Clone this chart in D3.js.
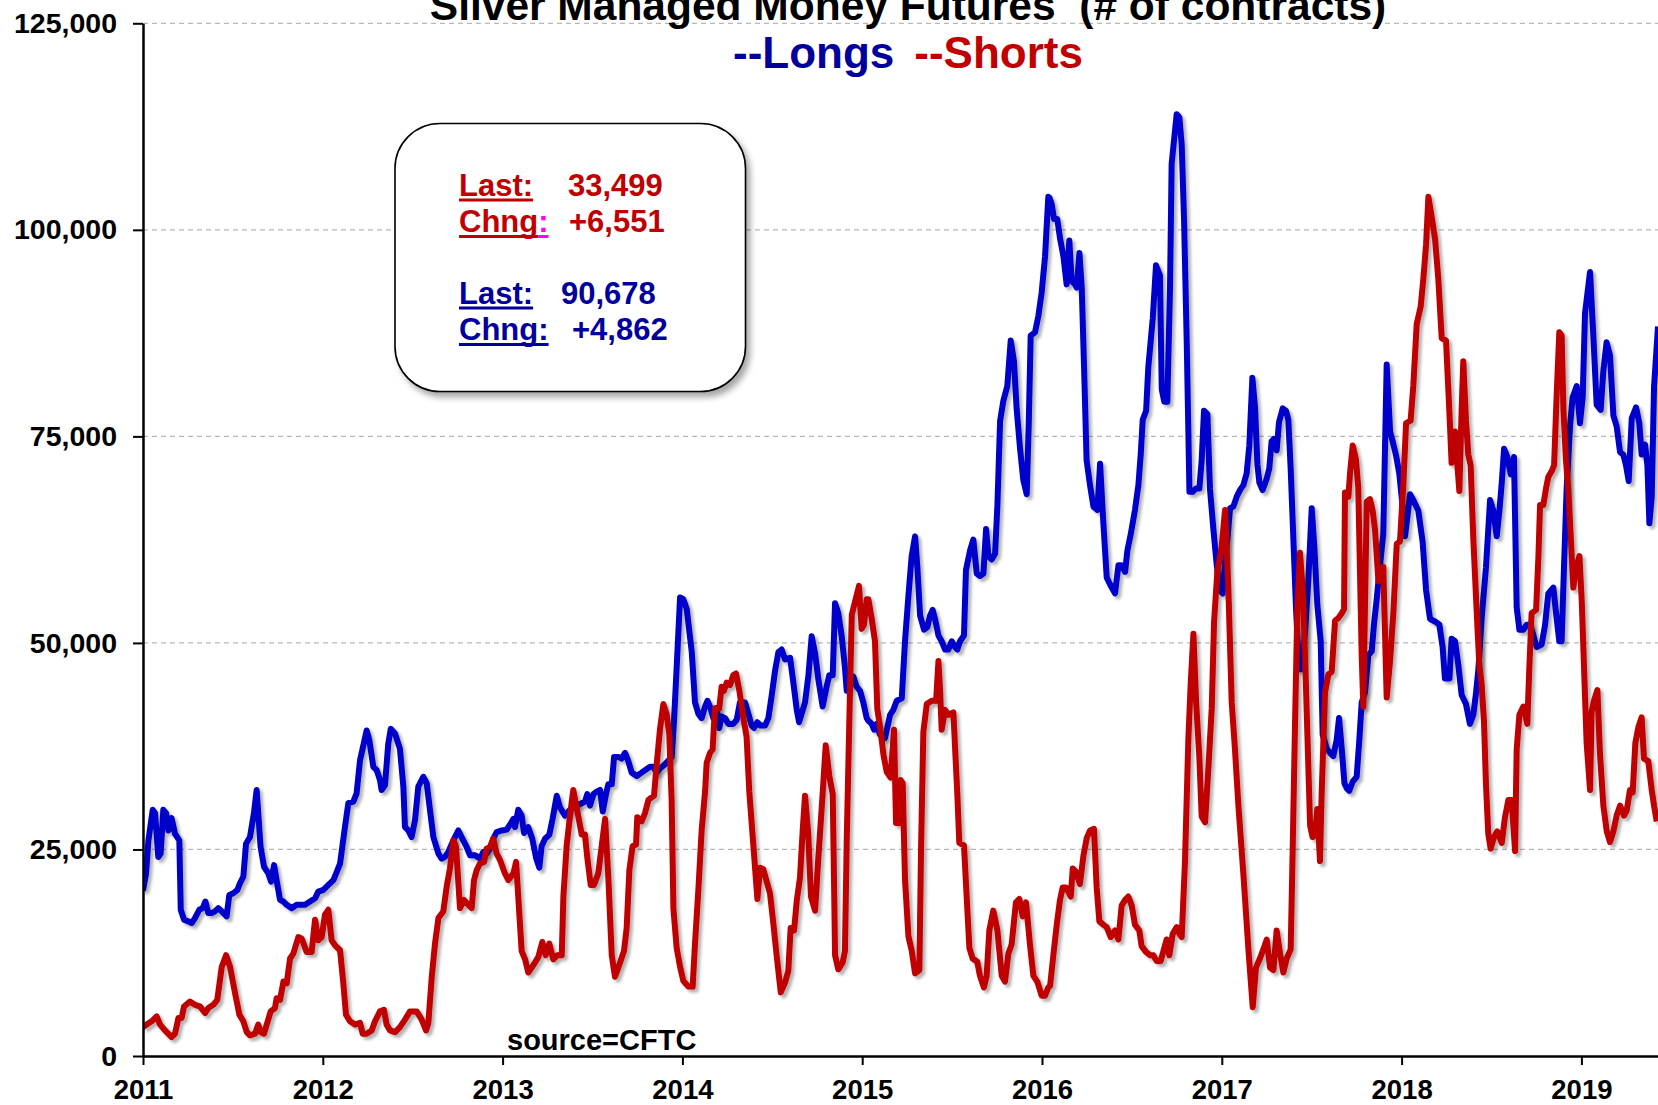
<!DOCTYPE html>
<html><head><meta charset="utf-8">
<script src="https://cdn.jsdelivr.net/npm/d3@7"></script>
<style>
html,body{margin:0;padding:0;background:#fff;}
svg{display:block;font-family:"Liberation Sans",Arial,Helvetica,sans-serif;font-weight:bold;}
</style>
</head><body>
<svg id="chart" width="1658" height="1105"></svg>
<script>
// ---- data (dates as decimal years, values in thousands of contracts) ----
const longsDates = [2011.000,2011.017,2011.030,2011.054,2011.067,2011.085,2011.098,2011.113,2011.128,2011.141,2011.159,2011.178,2011.202,2011.210,2011.228,2011.252,2011.271,2011.289,2011.313,2011.332,2011.347,2011.363,2011.382,2011.400,2011.419,2011.438,2011.465,2011.480,2011.502,2011.525,2011.539,2011.558,2011.573,2011.595,2011.617,2011.632,2011.654,2011.673,2011.697,2011.712,2011.729,2011.743,2011.762,2011.781,2011.799,2011.827,2011.855,2011.883,2011.901,2011.929,2011.957,2011.975,2012.003,2012.031,
2012.059,2012.096,2012.123,2012.142,2012.170,2012.188,2012.207,2012.244,2012.259,2012.281,2012.300,2012.318,2012.327,2012.346,2012.364,2012.378,2012.402,2012.429,2012.448,2012.457,2012.476,2012.494,2012.513,2012.531,2012.559,2012.578,2012.596,2012.615,2012.643,2012.661,2012.680,2012.698,2012.726,2012.754,2012.772,2012.800,2012.819,2012.847,2012.874,2012.893,2012.911,2012.930,2012.948,2012.967,2012.995,2013.023,
2013.041,2013.060,2013.069,2013.087,2013.106,2013.119,2013.143,2013.165,2013.186,2013.204,2013.217,2013.236,2013.260,2013.278,2013.301,2013.319,2013.347,2013.375,2013.393,2013.412,2013.440,2013.458,2013.471,2013.486,2013.505,2013.523,2013.542,2013.557,2013.575,2013.588,2013.607,2013.620,2013.644,2013.662,2013.681,2013.699,2013.718,2013.746,2013.773,2013.792,2013.820,2013.838,2013.857,2013.875,2013.903,2013.940,2013.953,2013.968,2013.987,2014.005,2014.024,
2014.052,2014.070,2014.089,2014.107,2014.126,2014.139,2014.157,2014.172,2014.191,2014.205,2014.218,2014.237,2014.256,2014.283,2014.302,2014.320,2014.348,2014.367,2014.385,2014.398,2014.417,2014.435,2014.460,2014.478,2014.497,2014.515,2014.534,2014.552,2014.571,2014.599,2014.617,2014.636,2014.649,2014.663,2014.682,2014.701,2014.719,2014.738,2014.756,2014.780,2014.802,2014.817,2014.836,2014.849,2014.867,2014.886,2014.904,2014.914,2014.932,2014.951,2014.969,2014.988,2015.006,2015.025,
2015.034,2015.053,2015.066,2015.081,2015.099,2015.127,2015.155,2015.173,2015.192,2015.220,2015.238,2015.257,2015.275,2015.294,2015.307,2015.322,2015.344,2015.362,2015.377,2015.392,2015.405,2015.424,2015.442,2015.461,2015.479,2015.498,2015.516,2015.529,2015.544,2015.566,2015.577,2015.600,2015.618,2015.637,2015.655,2015.674,2015.689,2015.702,2015.720,2015.739,2015.752,2015.767,2015.785,2015.807,2015.826,2015.844,2015.859,2015.878,2015.896,2015.915,2015.926,2015.937,2015.961,2015.980,2015.998,2016.017,2016.035,
2016.041,2016.054,2016.067,2016.085,2016.100,2016.119,2016.137,2016.152,2016.165,2016.184,2016.193,2016.208,2016.221,2016.234,2016.248,2016.267,2016.286,2016.308,2016.323,2016.341,2016.360,2016.378,2016.406,2016.425,2016.443,2016.462,2016.475,2016.493,2016.517,2016.536,2016.549,2016.560,2016.579,2016.591,2016.616,2016.634,2016.656,2016.666,2016.680,2016.697,2016.712,2016.721,2016.749,2016.764,2016.777,2016.790,2016.805,2016.820,2016.838,2016.857,2016.875,2016.888,2016.901,2016.920,2016.934,2016.953,2016.972,2016.990,2017.005,
2017.018,2017.031,2017.046,2017.064,2017.083,2017.101,2017.120,2017.138,2017.153,2017.170,2017.185,2017.198,2017.209,2017.227,2017.250,2017.264,2017.277,2017.290,2017.305,2017.318,2017.339,2017.357,2017.370,2017.383,2017.398,2017.413,2017.429,2017.444,2017.463,2017.481,2017.500,2017.515,2017.531,2017.550,2017.561,2017.583,2017.606,2017.620,2017.639,2017.652,2017.667,2017.682,2017.695,2017.709,2017.728,2017.750,2017.765,2017.778,2017.796,2017.815,2017.834,2017.847,2017.861,2017.876,2017.898,2017.917,2017.936,2017.950,2017.969,2017.987,2018.000,
2018.019,2018.047,2018.065,2018.093,2018.117,2018.136,2018.158,2018.186,2018.210,2018.228,2018.241,2018.266,2018.278,2018.297,2018.315,2018.334,2018.358,2018.380,2018.399,2018.414,2018.427,2018.445,2018.469,2018.492,2018.510,2018.529,2018.544,2018.557,2018.570,2018.588,2018.607,2018.625,2018.640,2018.655,2018.677,2018.696,2018.714,2018.733,2018.751,2018.779,2018.798,2018.816,2018.844,2018.859,2018.877,2018.890,2018.903,2018.918,2018.937,2018.951,2018.974,2018.992,2019.007,
2019.020,2019.048,2019.066,2019.085,2019.107,2019.122,2019.140,2019.159,2019.178,2019.196,2019.215,2019.233,2019.248,2019.263,2019.280,2019.304,2019.322,2019.335,2019.354,2019.367,2019.378,2019.391,2019.404,2019.426];
const longsValues = [20.0,22.1,26.1,29.8,29.4,24.1,24.5,29.8,29.4,27.3,28.8,26.9,26.1,17.7,16.5,16.3,16.1,16.7,17.7,17.9,18.7,17.3,17.3,17.5,17.9,17.5,16.9,19.5,19.7,20.1,20.9,21.7,25.7,26.5,29.4,32.2,25.3,22.9,22.1,21.1,23.1,21.3,18.9,18.7,18.3,17.9,18.3,18.3,18.3,18.7,19.1,19.9,20.1,20.7,
21.3,23.3,27.7,30.6,30.8,31.8,35.8,39.4,38.2,35.0,34.6,33.4,32.2,32.8,37.8,39.6,39.0,37.2,32.6,27.7,27.3,26.5,28.6,32.6,33.8,33.0,29.8,26.5,24.5,23.9,24.1,24.7,26.1,27.3,26.5,25.3,24.3,24.3,23.9,24.7,24.5,25.1,26.3,27.1,27.3,27.4,
28.0,28.7,27.7,29.8,29.1,27.0,27.7,26.3,24.0,22.8,25.4,26.3,26.8,28.7,31.5,30.1,29.1,29.8,30.1,30.3,30.6,30.8,31.7,30.3,31.7,32.0,32.2,29.6,31.7,32.9,32.9,36.2,36.2,36.0,36.7,35.7,34.3,33.9,34.3,34.6,35.0,35.0,34.3,34.8,35.3,36.2,40.4,47.0,55.5,55.3,54.1,
48.9,42.8,41.4,40.9,42.3,43.0,42.1,40.9,42.1,39.7,41.1,40.9,40.2,40.2,40.7,42.8,42.8,41.4,40.0,39.7,40.4,40.0,40.0,40.9,43.7,46.6,48.9,49.2,48.0,48.2,45.2,41.9,40.4,41.4,42.8,46.1,50.8,48.7,45.6,42.3,44.7,46.1,46.1,54.8,53.6,50.8,47.0,44.2,45.6,45.9,44.7,44.2,42.8,40.9,
40.6,40.2,39.5,40.2,38.9,38.5,41.3,41.9,43.0,43.3,50.2,55.7,60.5,62.9,59.1,53.3,51.6,51.9,53.3,54.0,52.9,50.9,50.2,49.2,49.2,50.2,49.5,49.2,50.2,50.9,58.8,61.2,62.5,58.4,58.1,58.4,63.8,60.5,60.1,60.8,66.7,76.9,79.3,81.1,86.6,84.1,78.3,73.5,69.7,68.0,76.3,87.2,87.6,89.6,92.4,96.8,104.0,
103.9,103.1,101.3,101.3,99.0,96.8,93.4,98.7,93.8,93.4,93.0,97.2,93.0,83.3,72.1,69.1,66.5,66.1,71.7,64.6,57.9,57.1,56.0,59.4,59.4,58.6,61.2,63.1,66.1,69.1,72.8,77.0,78.1,83.3,89.3,95.7,94.5,80.7,79.2,79.2,93.0,108.0,114.0,113.6,110.3,101.3,86.3,68.3,68.3,68.7,68.7,72.1,78.1,77.7,68.7,63.8,59.4,56.4,56.0,
59.8,62.6,66.3,66.5,67.7,68.5,69.1,70.5,73.9,82.1,78.4,71.6,69.4,68.5,69.9,71.1,74.4,74.7,73.3,76.7,78.4,78.1,77.0,71.1,62.6,54.1,46.8,46.8,51.3,57.5,66.3,61.5,54.7,50.2,38.9,37.2,36.6,36.3,38.3,40.9,37.2,33.0,32.4,32.1,33.2,33.8,38.3,42.8,44.0,48.5,49.0,52.4,55.2,58.6,63.2,83.7,75.6,74.4,72.7,70.5,67.7,
62.9,68.0,67.3,66.0,62.2,56.4,52.9,52.6,52.2,49.5,45.7,45.7,50.5,50.2,47.4,43.7,42.6,40.2,41.3,44.0,46.8,52.9,59.1,67.3,66.0,62.9,66.0,69.4,73.5,72.5,70.4,72.5,54.3,51.6,51.6,52.2,52.2,50.9,49.5,49.8,52.2,56.0,56.7,53.6,50.2,50.2,59.1,68.7,76.3,79.7,81.1,76.6,79.7,
89.9,94.9,87.3,78.8,78.2,82.9,86.4,84.8,77.5,76.2,73.1,72.8,71.5,69.6,77.2,78.5,76.6,72.8,74.0,71.5,64.5,67.7,81.0,88.3];

const shortsDates = [2011.000,2011.020,2011.048,2011.076,2011.095,2011.122,2011.159,2011.178,2011.197,2011.215,2011.228,2011.261,2011.289,2011.317,2011.345,2011.363,2011.391,2011.413,2011.438,2011.462,2011.484,2011.512,2011.536,2011.558,2011.577,2011.595,2011.623,2011.641,2011.654,2011.673,2011.691,2011.710,2011.734,2011.743,2011.762,2011.781,2011.799,2011.818,2011.836,2011.864,2011.883,2011.910,2011.938,2011.957,2011.975,2011.994,2012.012,2012.031,
2012.049,2012.068,2012.096,2012.114,2012.129,2012.151,2012.179,2012.207,2012.222,2012.244,2012.272,2012.290,2012.318,2012.340,2012.355,2012.374,2012.402,2012.429,2012.457,2012.485,2012.522,2012.550,2012.574,2012.587,2012.606,2012.624,2012.643,2012.670,2012.689,2012.707,2012.726,2012.741,2012.754,2012.763,2012.785,2012.809,2012.828,2012.841,2012.856,2012.874,2012.897,2012.911,2012.930,2012.948,2012.967,2012.986,2013.013,2013.032,
2013.060,2013.075,2013.087,2013.106,2013.125,2013.143,2013.171,2013.199,2013.221,2013.240,2013.260,2013.282,2013.304,2013.329,2013.338,2013.356,2013.375,2013.393,2013.416,2013.440,2013.458,2013.471,2013.490,2013.508,2013.532,2013.551,2013.570,2013.588,2013.607,2013.625,2013.653,2013.675,2013.690,2013.705,2013.723,2013.742,2013.749,2013.773,2013.792,2013.811,2013.829,2013.842,2013.857,2013.875,2013.894,2013.912,2013.927,2013.940,2013.950,2013.968,2013.987,2014.005,2014.033,
2014.057,2014.070,2014.089,2014.107,2014.126,2014.135,2014.154,2014.168,2014.181,2014.205,2014.218,2014.231,2014.246,2014.265,2014.283,2014.298,2014.317,2014.339,2014.357,2014.372,2014.395,2014.417,2014.432,2014.450,2014.469,2014.487,2014.506,2014.524,2014.547,2014.571,2014.589,2014.602,2014.621,2014.636,2014.654,2014.669,2014.682,2014.700,2014.715,2014.738,2014.756,2014.775,2014.797,2014.817,2014.836,2014.843,2014.849,2014.867,2014.891,2014.904,2014.914,2014.932,2014.942,2014.960,2014.982,2014.997,2015.010,2015.025,
2015.034,2015.053,2015.071,2015.084,2015.099,2015.118,2015.136,2015.158,2015.177,2015.188,2015.207,2015.214,2015.225,2015.238,2015.257,2015.275,2015.294,2015.318,2015.327,2015.340,2015.359,2015.387,2015.411,2015.424,2015.433,2015.442,2015.461,2015.479,2015.507,2015.529,2015.540,2015.566,2015.581,2015.596,2015.614,2015.640,2015.655,2015.677,2015.692,2015.707,2015.729,2015.752,2015.776,2015.794,2015.813,2015.831,2015.855,2015.874,2015.893,2015.911,2015.933,2015.952,2015.974,2015.998,2016.017,2016.035,
2016.045,2016.063,2016.082,2016.100,2016.115,2016.134,2016.160,2016.171,2016.189,2016.211,2016.230,2016.249,2016.267,2016.289,2016.304,2016.319,2016.341,2016.360,2016.382,2016.406,2016.425,2016.443,2016.462,2016.480,2016.499,2016.517,2016.541,2016.554,2016.578,2016.601,2016.619,2016.638,2016.660,2016.679,2016.693,2016.708,2016.727,2016.749,2016.764,2016.777,2016.795,2016.814,2016.827,2016.842,2016.857,2016.875,2016.888,2016.907,2016.925,2016.944,2016.957,2016.975,2016.999,2017.018,
2017.036,2017.055,2017.073,2017.092,2017.120,2017.148,2017.172,2017.190,2017.212,2017.231,2017.250,2017.268,2017.287,2017.305,2017.324,2017.342,2017.361,2017.383,2017.394,2017.407,2017.420,2017.435,2017.450,2017.463,2017.476,2017.491,2017.505,2017.518,2017.531,2017.546,2017.555,2017.574,2017.593,2017.611,2017.630,2017.648,2017.667,2017.680,2017.685,2017.704,2017.713,2017.728,2017.746,2017.759,2017.778,2017.787,2017.796,2017.806,2017.824,2017.839,2017.852,2017.871,2017.898,2017.917,2017.936,2017.954,2017.973,2017.991,
2018.010,2018.025,2018.050,2018.065,2018.084,2018.106,2018.121,2018.136,2018.149,2018.167,2018.186,2018.204,2018.223,2018.247,2018.265,2018.278,2018.297,2018.306,2018.321,2018.334,2018.343,2018.358,2018.371,2018.384,2018.399,2018.418,2018.432,2018.445,2018.458,2018.469,2018.482,2018.495,2018.514,2018.532,2018.557,2018.575,2018.594,2018.612,2018.631,2018.640,2018.655,2018.677,2018.699,2018.710,2018.723,2018.748,2018.761,2018.770,2018.788,2018.803,2018.816,2018.835,2018.848,2018.863,2018.877,2018.890,2018.900,2018.914,2018.927,2018.940,2018.955,2018.970,2018.989,2019.002,
2019.029,2019.048,2019.057,2019.070,2019.089,2019.103,2019.122,2019.141,2019.159,2019.178,2019.196,2019.215,2019.237,2019.252,2019.270,2019.285,2019.300,2019.317,2019.335,2019.348,2019.372,2019.391,2019.404,2019.419];
const shortsValues = [3.5,3.8,4.2,4.8,3.8,3.1,2.3,2.7,4.6,4.6,6.0,6.6,6.2,6.0,5.2,5.8,6.2,6.8,10.8,12.2,10.8,7.6,5.0,4.2,2.9,2.5,2.7,3.8,2.9,2.7,4.0,5.4,5.8,7.0,6.8,9.0,8.8,11.8,12.4,14.4,14.2,12.6,12.6,16.5,14.0,14.4,17.1,17.7,
14.0,13.4,12.8,8.8,5.0,4.2,3.8,4.0,2.7,2.7,3.1,4.2,5.4,5.6,3.8,3.1,2.9,3.5,4.4,5.4,5.4,4.4,3.1,4.0,9.6,13.6,16.7,17.5,20.5,22.7,26.1,25.3,20.9,17.9,18.9,18.3,17.9,21.3,22.5,23.3,23.5,25.1,25.3,26.3,24.5,23.7,22.1,21.3,
22.1,23.5,19.3,12.7,11.7,10.1,11.0,12.0,13.8,12.2,13.6,11.7,12.2,12.2,19.3,25.4,29.1,32.2,29.6,26.8,26.8,24.0,20.7,20.7,22.1,25.4,28.7,21.6,12.2,9.6,11.3,12.7,15.5,22.5,25.4,25.6,28.9,28.4,29.4,31.0,31.3,31.5,35.3,39.5,42.6,41.4,39.0,31.0,17.8,13.1,10.8,9.1,8.4,
8.4,13.6,20.2,27.3,32.0,35.5,36.7,37.1,42.1,42.1,44.7,44.2,45.2,44.9,46.1,46.3,44.2,40.9,38.6,32.0,25.4,19.0,22.8,22.6,21.1,19.7,16.0,12.2,7.7,8.9,10.3,15.5,15.2,18.8,21.6,27.3,31.5,26.8,19.3,17.6,24.0,30.1,37.6,33.9,31.7,21.6,12.2,10.5,11.3,12.7,26.3,44.2,53.4,55.0,56.9,51.7,52.2,55.3,
55.3,52.9,50.2,42.0,39.9,36.5,34.4,33.7,39.5,28.2,28.2,33.4,33.0,21.4,14.5,12.8,10.0,10.4,24.8,39.2,42.6,43.0,43.0,47.8,44.3,39.5,41.9,41.3,41.6,31.7,25.8,25.5,19.3,13.1,11.8,11.4,9.7,8.3,9.7,15.2,17.6,15.2,9.7,9.0,12.4,13.5,18.6,19.0,16.9,18.6,13.5,9.7,9.0,7.3,7.3,8.3,
8.5,12.2,15.9,18.9,20.4,20.4,19.3,22.7,22.3,20.8,24.2,26.4,27.3,27.5,20.4,16.3,15.9,15.6,14.4,15.2,14.1,18.2,18.9,19.3,18.2,15.9,15.2,13.3,12.6,12.2,12.2,11.5,11.5,13.0,14.1,12.2,14.8,15.6,14.8,14.4,23.4,38.4,45.1,51.1,42.9,36.2,29.0,28.3,34.7,42.1,52.6,58.6,61.6,66.1,
56.9,42.8,37.2,30.4,22.0,12.9,5.9,10.7,11.8,12.9,14.1,10.7,10.4,15.2,12.4,10.1,11.8,12.9,24.8,40.0,54.1,60.9,56.4,48.5,38.9,27.9,26.5,26.8,29.9,23.6,31.5,44.0,46.2,46.5,52.7,53.0,53.6,54.1,68.2,67.7,70.5,73.9,72.2,68.8,48.5,42.3,54.1,67.1,67.4,66.0,63.7,57.5,59.2,43.4,47.9,53.6,62.0,62.3,
69.4,76.6,76.9,81.1,88.6,90.7,94.1,98.2,104.0,101.6,98.9,94.1,86.9,86.6,78.3,71.8,75.6,72.8,68.4,78.3,84.1,76.9,72.8,71.5,62.5,53.6,47.4,45.0,40.6,33.0,26.9,25.1,26.5,27.2,25.8,28.9,31.0,31.0,24.8,37.1,41.3,42.3,40.2,46.8,53.6,54.0,60.5,66.7,66.7,68.7,70.1,70.8,71.5,80.4,87.6,87.2,78.3,72.1,68.7,63.2,56.7,59.1,60.5,55.0,
37.9,32.2,41.7,43.0,44.3,36.7,30.3,27.2,25.9,27.2,29.1,30.3,29.1,29.7,32.2,31.9,37.9,39.8,41.0,36.0,35.7,32.2,30.3,28.4];

const yTickValues = [0, 25, 50, 75, 100, 125];       // thousands of contracts
const xTickYears = [2011, 2012, 2013, 2014, 2015, 2016, 2017, 2018, 2019];
const titleText = "Silver Managed Money Futures  (# of contracts)";
const seriesLabels = ["--Longs", "--Shorts"];
const shortsStats = ["33,499", "+6,551"];
const longsStats = ["90,678", "+4,862"];
const sourceText = "source=CFTC";

// ---- drawing ----
(function draw() {
const W = 1658, H = 1105;
const plotLeft = 143, plotBottom = 1056, plotTop = 23.3;
const BLUE = "#0000CC", RED = "#C00000", NAVY = "#00009C";

const svg = d3.select("#chart");
svg.append("rect").attr("width", W).attr("height", H).attr("fill", "#fff");

const defs = svg.append("defs");
const f1 = defs.append("filter").attr("id", "lineShadow")
  .attr("x", "-2%").attr("y", "-2%").attr("width", "104%").attr("height", "104%");
f1.append("feDropShadow").attr("dx", 3).attr("dy", 3).attr("stdDeviation", 1.6)
  .attr("flood-color", "#000").attr("flood-opacity", 0.3);
const f2 = defs.append("filter").attr("id", "boxShadow")
  .attr("x", "-10%").attr("y", "-10%").attr("width", "125%").attr("height", "125%");
f2.append("feDropShadow").attr("dx", 4).attr("dy", 5).attr("stdDeviation", 3)
  .attr("flood-color", "#000").attr("flood-opacity", 0.35);
defs.append("clipPath").attr("id", "plotClip").append("rect")
  .attr("x", plotLeft).attr("y", 0).attr("width", W - plotLeft).attr("height", plotBottom);

const x = d3.scaleLinear().domain([2011, 2019.426]).range([plotLeft, W]);
const y = d3.scaleLinear().domain([0, 125]).range([plotBottom, plotTop]);

// gridlines
svg.append("g").selectAll("line").data(yTickValues.filter(v => v > 0)).join("line")
  .attr("x1", plotLeft).attr("x2", W).attr("y1", d => y(d)).attr("y2", d => y(d))
  .attr("stroke", "#b8b8b8").attr("stroke-width", 1.2).attr("stroke-dasharray", "5,4");

// lines
const longs = longsDates.map((t, i) => ({t, v: longsValues[i]}));
const shorts = shortsDates.map((t, i) => ({t, v: shortsValues[i]}));
const line = d3.line().x(d => x(d.t)).y(d => y(d.v));
const gl = svg.append("g").attr("clip-path", "url(#plotClip)");
gl.append("path").datum(longs).attr("d", line).attr("fill", "none")
  .attr("stroke", BLUE).attr("stroke-width", 6).attr("stroke-linejoin", "round")
  .attr("filter", "url(#lineShadow)");
gl.append("path").datum(shorts).attr("d", line).attr("fill", "none")
  .attr("stroke", RED).attr("stroke-width", 6).attr("stroke-linejoin", "round")
  .attr("filter", "url(#lineShadow)");

// axes
const yAxis = d3.axisLeft(y).tickValues(yTickValues).tickSize(10).tickSizeOuter(0)
  .tickPadding(16).tickFormat(d => d3.format(",")(d * 1000));
const gy = svg.append("g").attr("transform", `translate(${plotLeft},0)`).call(yAxis);
const xAxis = d3.axisBottom(x).tickValues(xTickYears).tickSize(9).tickSizeOuter(0)
  .tickPadding(14).tickFormat(d3.format("d"));
const gx = svg.append("g").attr("transform", `translate(0,${plotBottom})`).call(xAxis);
[gy, gx].forEach(g => {
  g.select(".domain").attr("stroke", "#000").attr("stroke-width", 2.5);
  g.selectAll(".tick line").attr("stroke", "#000").attr("stroke-width", 2);
  g.selectAll(".tick text").attr("fill", "#000")
    .attr("font-weight", "bold").attr("font-family", "'Liberation Sans', Arial, sans-serif");
});
gy.selectAll(".tick text").attr("font-size", 28.5);
gx.selectAll(".tick text").attr("font-size", 27.5);

// title & legend
svg.append("text").attr("x", 908).attr("y", 20).attr("text-anchor", "middle")
  .attr("font-size", 42.5).attr("fill", "#000").style("white-space", "pre").text(titleText);
const leg = svg.append("text").attr("x", 908).attr("y", 68).attr("text-anchor", "middle")
  .attr("font-size", 44);
leg.append("tspan").attr("fill", NAVY).text(seriesLabels[0]);
leg.append("tspan").attr("fill", RED).attr("dx", 20).text(seriesLabels[1]);

// source
svg.append("text").attr("x", 507).attr("y", 1050).attr("font-size", 29)
  .attr("fill", "#000").text(sourceText);

// info box
const box = svg.append("g");
box.append("rect").attr("x", 395).attr("y", 123.5).attr("width", 350.5).attr("height", 268)
  .attr("rx", 45).attr("ry", 45).attr("fill", "#fff").attr("stroke", "#000")
  .attr("stroke-width", 1.6).attr("filter", "url(#boxShadow)");

function underlinedLabel(g, txt, xx, yy, color, ulY) {
  const t = g.append("text").attr("x", xx).attr("y", yy).attr("font-size", 31)
    .attr("fill", color).text(txt);
  const w = t.node().getComputedTextLength();
  g.append("rect").attr("x", xx).attr("y", ulY).attr("width", w).attr("height", 3).attr("fill", color);
  return w;
}
underlinedLabel(box, "Last:", 459, 196, RED, 198.5);
const wCh = underlinedLabel(box, "Chng", 459, 232, RED, 235);
underlinedLabel(box, ":", 459 + wCh, 232, "#FF00FF", 235);
box.append("text").attr("x", 568).attr("y", 196).attr("font-size", 31).attr("fill", RED).text(shortsStats[0]);
box.append("text").attr("x", 569).attr("y", 232).attr("font-size", 31).attr("fill", RED).text(shortsStats[1]);
underlinedLabel(box, "Last:", 459, 304, NAVY, 306.5);
underlinedLabel(box, "Chng:", 459, 340, NAVY, 343);
box.append("text").attr("x", 561).attr("y", 304).attr("font-size", 31).attr("fill", NAVY).text(longsStats[0]);
box.append("text").attr("x", 572).attr("y", 340).attr("font-size", 31).attr("fill", NAVY).text(longsStats[1]);
})();
</script>
</body></html>
